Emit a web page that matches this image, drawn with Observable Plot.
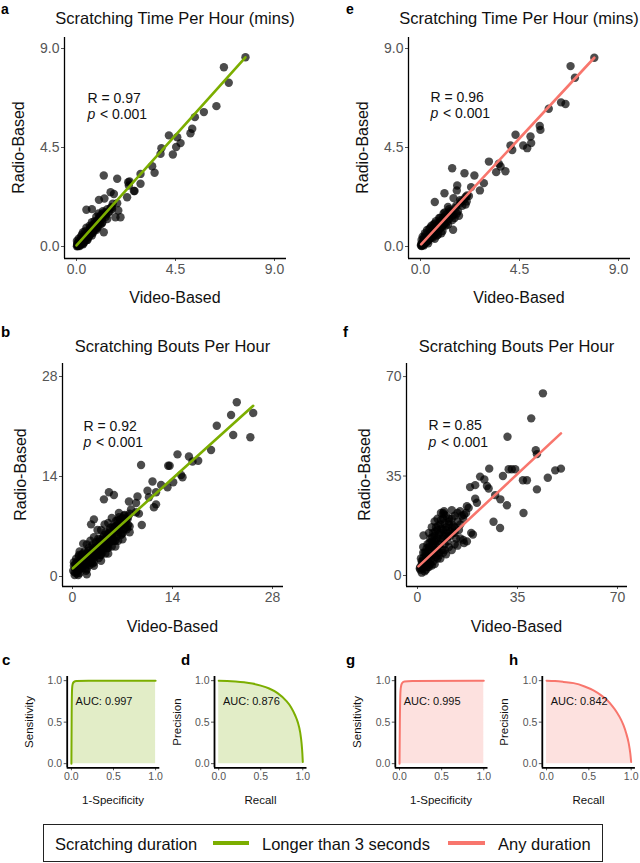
<!DOCTYPE html>
<html>
<head>
<meta charset="utf-8">
<script src="https://cdn.jsdelivr.net/npm/d3@7"></script>
<script src="https://cdn.jsdelivr.net/npm/@observablehq/plot@0.6"></script>
<style>
  body { margin: 0; background: #fff; }
  #fig { position: relative; width: 640px; height: 863px; }
  #fig svg { position: absolute; left: 0; top: 0; }
</style>
</head>
<body>
<div id="fig"></div>
<script>
// scratching time per hour (mins), events longer than 3 s
const aVideo = [7.68,6.70,6.92,6.36,5.79,5.38,5.26,5.18,4.20,4.58, 4.73,4.53,3.86,3.82,4.38,3.44,3.55,2.91,1.24,1.85,
  2.35,2.38,2.91,2.61,2.30,1.55,1.70,1.02,1.85,0.45, 1.77,1.24,2.41,2.00,1.90,0.70,1.27,2.64,
  0.02,0.05,0.08,0.10,0.12,0.15,0.18,0.20,0.22,0.25, 0.28,0.30,0.32,0.35,0.38,0.40,0.42,0.45,0.48,0.50,
  0.55,0.58,0.60,0.65,0.68,0.70,0.75,0.78,0.80,0.85, 0.90,0.95,1.00,1.05,1.10,1.15,1.20,1.30,1.35,1.40,
  1.50,1.60,1.65,1.20,0.90,0.60,0.30,0.10,0.02,0.05, 0.15,0.30,0.50,0.70,0.90,1.40,0.45,0.25,1.00,0.70];
const aRadio = [8.60,8.15,7.44,6.38,6.11,5.88,5.35,5.15,5.05,4.97, 4.70,4.52,4.47,4.21,4.18,3.65,3.35,3.30,3.23,3.08,
  2.92,2.77,2.85,2.52,2.24,2.47,2.39,2.12,1.97,1.67, 1.33,0.65,2.96,1.33,1.64,1.70,2.18,2.52,
  0.01,0.03,0.10,0.05,0.18,0.12,0.25,0.15,0.30,0.20, 0.35,0.28,0.45,0.32,0.50,0.40,0.55,0.38,0.60,0.50,
  0.62,0.70,0.55,0.75,0.85,0.68,0.90,0.80,1.00,0.88, 1.10,1.00,1.20,1.10,1.30,1.25,1.40,1.50,1.45,1.70,
  1.60,1.80,1.95,1.60,1.35,0.95,0.65,0.35,0.25,0.15, 0.02,0.10,0.30,0.50,0.75,1.25,0.85,0.55,1.50,1.10];
const aCoreVideo = [0.03,0.07,0.13,0.17,0.23,0.27,0.33,0.37,0.43,0.47, 0.53,0.57,0.63,0.67,0.73,0.77,0.83,0.87,0.93,0.97,
  1.03,1.08,1.13,1.18,1.25,1.33,1.45,1.55,1.62,1.05, 0.82,0.62,0.40,0.20,0.08,0.35,0.55,0.75,0.95,1.15];
const aCoreRadio = [0.08,0.02,0.22,0.08,0.35,0.12,0.40,0.25,0.48,0.30, 0.68,0.48,0.80,0.60,0.95,0.70,1.05,0.80,1.15,0.90,
  1.30,1.00,1.45,1.10,1.55,1.35,1.55,1.75,1.70,1.35, 1.15,0.85,0.70,0.45,0.20,0.18,0.42,0.62,0.85,1.05];
const aFitX = [0.0, 7.68], aFitY = [0.05, 8.6];

// scratching bouts per hour, longer than 3 s
const bVideo = [23.0,22.2,25.3,20.2,22.5,24.9,19.4,17.6,16.3,16.8, 14.7,13.4,13.6,9.6,14.1,15.2,15.4,11.2,12.4,13.3,
  10.5,11.7,10.7,5.1,5.8,4.4,9.1,11.4,11.7,7.9, 8.9,9.3,8.9,9.7,8.2,7.2,3.0,2.6,6.5,6.1,
  1,1,2,2,3,3,4,4,5,5, 6,6,7,7,8,0.5,0.3,1.5,2.5,3.5, 4.5,5.5,6.5,7.5,1,2,3,4,5,1.5,
  0.5,2,3,4,5,6,7,8,0.2,0.8, 1.2,2.2,2.8,3.2,3.8,4.2,4.8,5.2,5.8,6.2, 6.8,7.2,7.8,3.5,4.5,2.5,6.5,5.5,0.1,0.6];
const bRadio = [24.4,22.6,22.9,21.1,19.8,19.5,17.7,16.2,16.8,16.1, 17.1,15.5,15.5,15.6,13.2,14.2,13.9,13.3,12.8,12.5,
  12.0,11.8,11.1,11.8,11.4,10.8,11.2,9.7,10.1,10.5, 10.3,8.8,9.0,7.2,9.4,8.5,8.0,7.3,8.3,7.8,
  0.5,2,1,3,2,4,3,5,4,6, 5,7,6,7.5,7,1,0.2,1.5,2.5,3.5, 4.5,5.5,6.5,7.8,3.5,4.5,5.5,6.5,7.5,4.6,
  2.5,0.3,1.5,2.2,3.2,4.2,5.2,6.2,1.5,0.2, 2.6,1.8,3.6,2.8,4.6,3.8,5.6,4.8,6.4,5.6, 7.4,6.6,8.4,6.5,7.3,5.0,8.9,8.2,0.8,1.4];
const bCoreVideo = [0.3,0.7,1.1,1.4,1.8,2.1,2.4,2.7,3.1,3.4, 3.7,4.1,4.4,4.7,5.1,5.4,5.7,6.1,6.4,6.7,
  7.1,7.4,7.7,0.4,0.9,1.3,1.7,2.3,2.6,3.3, 3.6,4.3,4.6,5.3,5.6,6.3,6.6,7.3,0.6,1.6,
  2.9,3.9,4.9,5.9,6.9,7.6,0.2,1.0,2.0,3.0, 4.0,5.0,6.0,7.0,1.9,2.8,3.7,4.6,5.5,6.4,
  0.4,0.8,1.2,1.6,2.0,2.4,2.8,3.2,3.6,4.0, 4.4,4.8,5.2,5.6,6.0,6.4,6.8,7.2,7.6,8.0,
  0.6,1.4,2.2,3.0,3.8,4.6,5.4,6.2,7.0,7.8, 1.0,1.8,2.6,3.4,4.2,5.0,5.8,6.6,7.4,0.9];
const bCoreRadio = [0.6,1.0,1.6,1.2,2.2,2.8,2.0,3.4,3.0,4.2, 3.5,4.6,4.0,5.4,5.0,6.0,5.2,6.8,6.0,7.2,
  7.8,6.8,8.0,1.8,2.8,3.0,3.5,4.0,3.0,4.8, 5.3,5.5,6.2,6.8,7.0,7.8,8.0,8.6,0.4,2.6,
  2.4,3.0,4.0,5.0,6.0,7.0,2.0,1.5,2.6,4.0, 5.0,6.0,7.0,8.0,0.8,1.8,2.6,3.2,4.2,5.0,
  1.2,0.8,2.4,2.0,3.2,1.6,4.4,3.8,4.8,3.6, 5.8,4.2,6.4,5.0,6.2,7.4,5.8,8.0,6.6,8.8,
  2.0,3.2,3.6,3.2,5.2,5.0,5.8,6.6,8.2,7.2, 1.0,1.2,2.0,3.0,3.4,4.6,6.8,7.0,7.6,3.0];
const bFitX = [0.05, 25.3], bFitY = [1.15, 23.9];

// scratching time per hour (mins), any duration
const eVideo = [7.90,6.82,7.02,6.39,6.59,5.83,5.42,5.45,4.32,5.00, 4.67,4.85,5.03,4.09,4.17,3.11,3.56,3.64,3.44,3.86,
  1.44,2.00,2.45,2.88,2.70,1.67,1.09,0.65,2.12,2.05, 1.48,1.65,2.30,1.50,1.80,
  0.02,0.05,0.08,0.10,0.12,0.15,0.18,0.20,0.25,0.28, 0.30,0.35,0.38,0.40,0.45,0.50,0.55,0.60,0.65,0.70,
  0.75,0.80,0.85,0.90,0.95,1.00,1.05,1.10,1.20,1.30, 1.40,1.50,1.60,1.70,1.80,1.90,2.00,2.10,0.10,0.20,
  0.30,0.50,0.70,0.90,1.10,1.30,0.05,0.15,0.40,0.60, 0.80,1.00,1.25,1.55,1.75,0.35,0.65,0.95,1.45,2.20];
const eRadio = [8.58,8.20,7.67,6.55,6.48,6.26,5.48,5.30,5.08,5.00, 4.59,4.47,4.70,4.59,4.39,3.86,3.76,3.64,3.38,3.42,
  3.56,3.33,3.23,2.88,2.55,2.77,2.42,2.02,2.32,1.91, 0.76,2.55,2.70,2.20,2.10,
  0.05,0.02,0.15,0.08,0.20,0.10,0.28,0.18,0.32,0.22, 0.40,0.30,0.48,0.35,0.55,0.45,0.65,0.55,0.78,0.62,
  0.88,0.75,0.98,0.85,1.10,0.95,1.20,1.05,1.35,1.25, 1.55,1.45,1.75,1.60,1.95,1.85,2.15,2.05,0.45,0.60,
  0.75,0.95,1.15,1.30,1.55,1.70,0.30,0.40,0.80,1.00, 0.55,0.70,1.00,1.30,1.40,0.15,0.35,0.60,1.20,2.30];
const eCoreVideo = [0.03,0.07,0.13,0.17,0.23,0.27,0.33,0.37,0.43,0.47, 0.53,0.57,0.63,0.67,0.73,0.77,0.83,0.87,0.93,0.97,
  1.03,1.08,1.15,1.22,1.35,1.45,1.62,1.85,2.05,0.25, 0.45,0.65,0.85,1.05,1.25,0.15,0.55,0.75,1.15,1.65];
const eCoreRadio = [0.10,0.04,0.25,0.12,0.38,0.20,0.45,0.28,0.60,0.40, 0.72,0.50,0.85,0.60,0.95,0.70,1.08,0.80,1.20,0.90,
  1.32,1.02,1.45,1.15,1.60,1.40,1.85,2.05,2.25,0.55, 0.85,1.05,1.30,1.50,1.80,0.05,0.40,0.50,0.95,1.50];
const eFitX = [0.03, 7.9], eFitY = [0.1, 8.58];

// scratching bouts per hour, any duration
const fVideo = [43.9,39.8,31.5,41.4,41.8,25.1,31.9,33.0,29.9,34.2, 48.2,50.2,45.6,36.9,38.3,41.8,21.9,23.4,18.4,20.2,
  24.3,24.9,27.2,29.0,31.3,37.1,26.6,28.9,20.2,20.8, 17.3,17.9,8.2,9.3,14.9,16.3,18.8,19.4,16.3,17.3, 2.1,
  1,1.5,2,2,2.5,3,3,3.5,4,4, 4.5,5,5,5.5,6,6,6.5,7,7,7.5, 8,8,8.5,9,9,9.5,10,10.5,11,11.5,
  12,12.5,13,13.5,14,14.5,15,16,1.5,2.5, 3.5,4.5,5.5,6.5,3,5,7,9,11,13, 15,2,4,6,10,12,0.8,1.2,17,15.5];
const fRadio = [64.1,55.3,48.8,44.1,42.7,37.6,37.4,37.4,35.0,37.4, 37.0,37.6,34.4,33.5,33.5,30.3,34.8,33.8,31.1,31.8,
  31.5,30.6,28.3,26.8,24.7,22.0,18.9,16.7,27.0,25.6, 24.4,23.8,22.0,22.6,22.6,21.4,15.0,14.4,11.4,12.0, 14.1,
  2,4,3,6,1.5,5,8,3,6,10, 4,7,12,5,9,14,6.5,10,16,8, 12,18,9,14,20,11,16,12,18,14,
  20,15,17,13,19,16,18,20,1,8, 11,13,15,17,2,3.5,6,8,10,11, 13,10,15,19,21,23,2.5,6,22,21];
const fCoreVideo = [1,2,3,4,5,6,7,8,9,10, 11,12,13,14,2.5,3.5,4.5,5.5,6.5,7.5,
  8.5,9.5,10.5,11.5,12.5,1.8,2.8,3.8,4.8,5.8, 6.8,7.8,8.8,9.8,10.8,3.2,4.2,5.2,6.2,7.2,
  8.2,9.2,4,6,8,10,12,14,16,5, 7,9,11,13,3,5.5,7.5,9.5,2,1.5];
const fCoreRadio = [3,5,7,9,10,12,13,15,16,17, 19,17,21,22,4.5,6.5,8.5,10.5,12.5,14.5,
  16.5,18.5,13.5,15.5,17.5,2.5,3.5,4.5,6,7.5, 9,11,13,14,15,9.5,11.5,13.5,15.5,17.5,
  19.5,21.5,3,4,6,7.5,9,10.5,12.5,17, 20,22,20,15,6,11,7,9,8,5];
const fFitX = [0.35, 50.2], fFitY = [3.2, 50.0];

// ROC and precision-recall curves
const rocCx = [0,0.003,0.008,0.015,0.03,0.06,0.2,1];
const rocCy = [0,0.6,0.9,0.96,0.985,0.997,1,1];
const prDx = [0,0.1,0.2,0.3,0.4,0.5,0.6,0.7,0.8,0.86,0.91,0.94,0.97,0.985,0.995,1];
const prDy = [1,0.997,0.99,0.98,0.965,0.94,0.905,0.85,0.76,0.68,0.58,0.5,0.37,0.25,0.12,0.02];
const rocGx = [0,0.004,0.012,0.022,0.035,0.06,0.15,1];
const rocGy = [0,0.5,0.88,0.95,0.975,0.99,0.997,1];
const prHx = [0,0.1,0.2,0.32,0.45,0.56,0.65,0.72,0.78,0.83,0.88,0.91,0.94,0.97,0.99,1];
const prHy = [1,0.995,0.985,0.97,0.93,0.88,0.82,0.76,0.69,0.62,0.53,0.46,0.37,0.25,0.12,0.02];

const timeTicks = [0, 4.5, 9];
const boutTicksLong = [0, 14, 28];
const boutTicksAny = [0, 35, 70];
const unitTicks = [0, 0.5, 1];

const GREEN = "#7CAE00", RED = "#F8766D";
const FONT = "'Liberation Sans', Arial, sans-serif";
const W = 640, H = 863;
const fig = document.getElementById("fig");

// every plot covers the whole page; the frame is placed via margins
function scatter(p) {
  const [L, R, T, B] = p.frame;
  return Plot.plot({
    width: W, height: H,
    marginLeft: L, marginRight: W - R, marginTop: T, marginBottom: H - B,
    x: {domain: p.xDomain}, y: {domain: p.yDomain},
    style: {background: "transparent", fontFamily: FONT},
    marks: [
      Plot.axisX({ticks: p.ticks, tickFormat: p.fmt, tickSize: 3, tickPadding: 3, fontSize: 14, color: "#555", label: null}),
      Plot.axisY({ticks: p.ticks, tickFormat: p.fmt, tickSize: 3, tickPadding: 2, fontSize: 14, color: "#555", label: null}),
      Plot.ruleX([p.xDomain[0]], {stroke: "black", strokeWidth: 1.3}),
      Plot.ruleY([p.yDomain[0]], {stroke: "black", strokeWidth: 1.3}),
      Plot.dot(p.xs, {x: p.xs, y: p.ys, r: 4.2, fill: "black", fillOpacity: 0.7}),
      Plot.line(p.fitX, {x: p.fitX, y: p.fitY, stroke: p.color, strokeWidth: 2.6}),
      Plot.text([p.r], {x: [p.ann[0]], y: [p.ann[1]], text: d => "R = " + d, textAnchor: "start", fontSize: 14, fill: "#111"}),
      Plot.text(["p"], {x: [p.ann[0]], y: [p.ann[2]], text: d => d, textAnchor: "start", fontSize: 14, fontStyle: "italic", fill: "#111"}),
      Plot.text(["< 0.001"], {x: [p.ann[0]], y: [p.ann[2]], dx: 12.5, text: d => d, textAnchor: "start", fontSize: 14, fill: "#111"})
    ]
  });
}

function curve(p) {
  const [L, R] = p.frame, T = 676, B = 767.3;
  const rows = p.xs.map((x, i) => ({x, y: p.ys[i]}));
  return Plot.plot({
    width: W, height: H,
    marginLeft: L, marginRight: W - R, marginTop: T, marginBottom: H - B,
    x: {domain: [-0.05, 1.05]}, y: {domain: [-0.05, 1.05]},
    style: {background: "transparent", fontFamily: FONT},
    marks: [
      Plot.areaY(rows, {x: "x", y: "y", fill: p.color, fillOpacity: 0.22, curve: "monotone-x"}),
      Plot.line(rows, {x: "x", y: "y", stroke: p.color, strokeWidth: 2, curve: "monotone-x"}),
      Plot.axisX({ticks: unitTicks, tickFormat: d3.format(".1f"), tickSize: 3, tickPadding: 2, fontSize: 10.5, color: "#555", label: null}),
      Plot.axisY({ticks: unitTicks, tickFormat: d3.format(".1f"), tickSize: 3, tickPadding: 2, fontSize: 10.5, color: "#555", label: null}),
      Plot.ruleX([-0.05], {stroke: "black", strokeWidth: 1.8}),
      Plot.ruleY([-0.05], {stroke: "black", strokeWidth: 1.8}),
      Plot.text([p.auc], {x: [0.05], y: [0.75], text: d => "AUC: " + d, textAnchor: "start", fontSize: 11, fill: "#111"})
    ]
  });
}

const panels = [
  scatter({frame: [64, 286, 37, 258], xDomain: [-0.545, 9.545], yDomain: [-0.545, 9.5], ticks: timeTicks, fmt: d3.format(".1f"),
    xs: aVideo.concat(aCoreVideo), ys: aRadio.concat(aCoreRadio), fitX: aFitX, fitY: aFitY, color: GREEN, r: "0.97", ann: [0.5, 6.73, 6.0]}),
  scatter({frame: [408, 630, 37, 258], xDomain: [-0.545, 9.545], yDomain: [-0.545, 9.5], ticks: timeTicks, fmt: d3.format(".1f"),
    xs: eVideo.concat(eCoreVideo), ys: eRadio.concat(eCoreRadio), fitX: eFitX, fitY: eFitY, color: RED, r: "0.96", ann: [0.45, 6.77, 6.05]}),
  scatter({frame: [62, 283, 363, 586], xDomain: [-1.4, 29.54], yDomain: [-1.4, 29.82], ticks: boutTicksLong, fmt: d3.format("d"),
    xs: bVideo.concat(bCoreVideo), ys: bRadio.concat(bCoreRadio), fitX: bFitX, fitY: bFitY, color: GREEN, r: "0.92", ann: [1.54, 21.0, 18.76]}),
  scatter({frame: [406, 627, 363, 586], xDomain: [-3.85, 73.5], yDomain: [-3.87, 74.6], ticks: boutTicksAny, fmt: d3.format("d"),
    xs: fVideo.concat(fCoreVideo), ys: fRadio.concat(fCoreRadio), fitX: fFitX, fitY: fFitY, color: RED, r: "0.85", ann: [3.85, 52.8, 46.8]}),
  curve({frame: [66.7, 159.3], xs: rocCx, ys: rocCy, color: GREEN, auc: "0.997"}),
  curve({frame: [214, 306.5], xs: prDx, ys: prDy, color: GREEN, auc: "0.876"}),
  curve({frame: [394.8, 487.5], xs: rocGx, ys: rocGy, color: RED, auc: "0.995"}),
  curve({frame: [541.8, 634.9], xs: prHx, ys: prHy, color: RED, auc: "0.842"})
];
panels.forEach(svg => fig.append(svg));

// titles, axis titles, panel letters and the shared legend
const over = d3.select(fig).append("svg").attr("width", W).attr("height", H)
  .style("font-family", FONT);

const label = (t, x, y, size, opts = {}) => {
  const el = over.append("text").attr("font-size", size).attr("fill", opts.fill || "#111").text(t);
  if (opts.rotate) el.attr("transform", `translate(${x},${y}) rotate(-90)`).attr("text-anchor", "middle");
  else el.attr("x", x).attr("y", y).attr("text-anchor", opts.anchor || "middle");
  if (opts.bold) el.attr("font-weight", "bold");
  return el;
};

label("Scratching Time Per Hour (mins)", 175, 24, 16.5);
label("Scratching Time Per Hour (mins)", 519, 24, 16.5);
label("Scratching Bouts Per Hour", 172.5, 352, 16.5);
label("Scratching Bouts Per Hour", 516.5, 352, 16.5);
[[175, 303], [519, 303], [172.5, 632], [516.5, 632]].forEach(([x, y]) => label("Video-Based", x, y, 16));
[[24, 147.5], [368, 147.5], [26, 474.5], [370, 474.5]].forEach(([x, y]) => label("Radio-Based", x, y, 16, {rotate: true}));
[["1-Specificity", 113], ["Recall", 260.5], ["1-Specificity", 441], ["Recall", 588.5]].forEach(([t, x]) => label(t, x, 804, 11.5));
[["Sensitivity", 33], ["Precision", 181], ["Sensitivity", 361], ["Precision", 508]].forEach(([t, x]) => label(t, x, 722, 11.5, {rotate: true}));
[["a", 1, 14, 14], ["e", 346, 14, 14], ["b", 1, 337, 15], ["f", 343, 337, 15], ["c", 2, 665, 15], ["d", 181, 665, 15], ["g", 346, 665, 15], ["h", 509, 665, 15]]
  .forEach(([t, x, y, s]) => label(t, x, y, s, {bold: true, anchor: "start", fill: "#000"}));

over.append("rect").attr("x", 43.5).attr("y", 824.5).attr("width", 559).attr("height", 37)
  .attr("fill", "none").attr("stroke", "#222").attr("stroke-width", 1);
label("Scratching duration", 55, 850, 16.5, {anchor: "start"});
over.append("line").attr("x1", 213).attr("x2", 249).attr("y1", 843).attr("y2", 843).attr("stroke", GREEN).attr("stroke-width", 4);
label("Longer than 3 seconds", 262, 850, 16.5, {anchor: "start"});
over.append("line").attr("x1", 448).attr("x2", 485).attr("y1", 843).attr("y2", 843).attr("stroke", RED).attr("stroke-width", 4);
label("Any duration", 498, 850, 16.5, {anchor: "start"});
</script>
</body>
</html>
